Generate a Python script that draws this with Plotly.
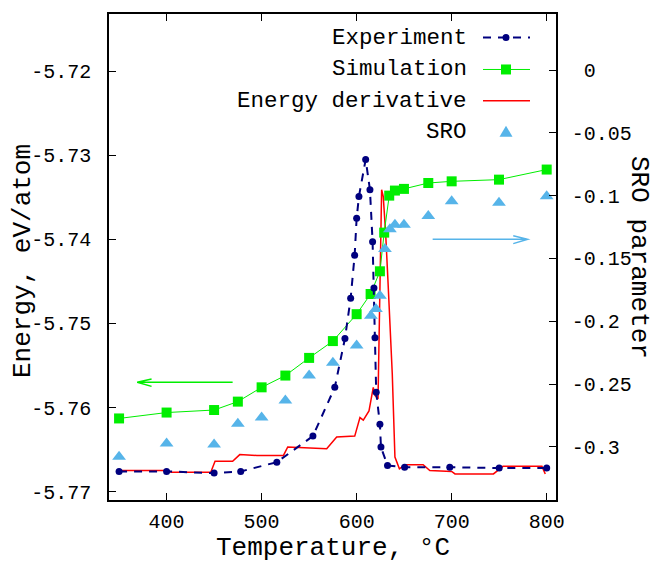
import plotly.graph_objects as go

# ---------------- data ----------------
exp_T = [350, 400, 450, 478, 516, 554, 577, 587.7, 593.7, 597.9, 600, 602.4, 609.5, 614,
         616.8, 618.2, 619.3, 620.6, 624.5, 625.6, 632.5, 650.5, 698, 750, 800]
exp_E = [-5.7676, -5.7676, -5.7678, -5.7676, -5.7665, -5.7634, -5.7576, -5.7518, -5.7470,
         -5.7419, -5.7375, -5.7349, -5.7305, -5.7341, -5.7403, -5.7458, -5.7517, -5.7582,
         -5.7620, -5.7647, -5.7669, -5.7671, -5.7671, -5.7672, -5.7672]

sim_T = [350, 400, 450, 475, 500, 525, 550, 575, 600, 614.7, 624.5, 629, 634.3, 640.3,
         649.8, 675.4, 700, 749.8, 800]
sim_E = [-5.7613, -5.7606, -5.7603, -5.7593, -5.7576, -5.7562, -5.7541, -5.7521, -5.7489,
         -5.7465, -5.7438, -5.7392, -5.7348, -5.7342, -5.7340, -5.7333, -5.7331, -5.7329,
         -5.7317]

der_T = [350, 400, 405, 446.5, 451, 469.5, 477, 495, 523, 527.5, 568.5, 579, 598, 603.5,
         607, 613, 617.5, 619.5, 622.5, 624.5, 626.3, 628, 630.5, 633, 635, 637.5, 640.3,
         645, 651, 670, 677, 700, 703.5, 744, 754, 795, 798.5]
der_E = [-5.7675, -5.7675, -5.7677, -5.7677, -5.7664, -5.7664, -5.7656, -5.7657, -5.7657,
         -5.7647, -5.7649, -5.7635, -5.7634, -5.7612, -5.7615, -5.7604, -5.7576, -5.7586,
         -5.7590, -5.7470, -5.7341, -5.7349, -5.7392, -5.7450, -5.7500, -5.7560, -5.7659,
         -5.7673, -5.7668, -5.7668, -5.7675, -5.7676, -5.7679, -5.7679, -5.7670, -5.7670,
         -5.7679]

sro_T = [350, 400, 450, 475, 500, 525, 550, 575, 600, 615, 620.3, 624.5, 629.8, 635,
         640.3, 649.8, 675.4, 700, 749.8, 800]
sro_V = [-0.3079, -0.2973, -0.2981, -0.2815, -0.2767, -0.2630, -0.2431, -0.2331, -0.2194,
         -0.1956, -0.1903, -0.1797, -0.1425, -0.1268, -0.1232, -0.1232, -0.1162, -0.1044,
         -0.1057, -0.1004]

x_ticks = [400, 500, 600, 700, 800]
x_ticktext = ["400", "500", "600", "700", "800"]
y_ticks = [-5.77, -5.76, -5.75, -5.74, -5.73, -5.72]
y_ticktext = ["-5.77", "-5.76", "-5.75", "-5.74", "-5.73", "-5.72"]
y2_ticks = [-0.3, -0.25, -0.2, -0.15, -0.1, -0.05, 0]
y2_ticktext = ["-0.3", "-0.25", "-0.2", "-0.15", "-0.1", "-0.05", "\u00a00"]

legend_names = ["Experiment", "Simulation", "Energy derivative", "SRO"]

# ---------------- styles ----------------
FONT = "Liberation Mono, Courier New, monospace"
C_EXP = "#00007f"
C_SIM = "#00ee00"
C_DER = "#ff0000"
C_SRO = "#56b4e9"

W, H = 654, 564
L, R, T, B = 109, 98, 12, 64
PW, PH = W - L - R, H - T - B


def pxx(x):
    return (x - L) / PW


def pxy(y):
    return (H - B - y) / PH


fig = go.Figure()
fig.add_trace(go.Scatter(x=der_T, y=der_E, mode="lines", line=dict(color=C_DER, width=1.5),
                         showlegend=False))
fig.add_trace(go.Scatter(x=sim_T, y=sim_E, mode="lines+markers",
                         line=dict(color=C_SIM, width=1),
                         marker=dict(symbol="square", size=10, color=C_SIM), showlegend=False))
fig.add_trace(go.Scatter(x=exp_T, y=exp_E, mode="lines+markers",
                         line=dict(color=C_EXP, width=2, dash="8px,7px"),
                         marker=dict(symbol="circle", size=7, color=C_EXP), showlegend=False))
fig.add_trace(go.Scatter(x=sro_T, y=sro_V, mode="markers", yaxis="y2",
                         marker=dict(symbol="triangle-up", size=12, color=C_SRO),
                         showlegend=False))

shapes = []
annotations = []

# arrows (decorations)
shapes.append(dict(type="path", xref="x", yref="y", line=dict(color=C_SIM, width=1.5),
                   path="M 469.5,-5.7570 L 369.1,-5.7570 M 384.2,-5.75661 L 369.1,-5.7570 L 384.2,-5.75749"))
shapes.append(dict(type="path", xref="x", yref="y2", line=dict(color=C_SRO, width=1.5),
                   path="M 680,-0.1347 L 780,-0.1347 M 764.8,-0.1319 L 780,-0.1347 L 764.8,-0.1382"))

# manual gnuplot-style legend
rows = [35.7, 67.7, 99.0, 130.7]
for name, ry in zip(legend_names, rows):
    annotations.append(dict(text=name, x=pxx(469), y=pxy(ry), xref="paper", yref="paper",
                            xanchor="right", yanchor="middle", showarrow=False,
                            font=dict(family=FONT, size=22.5, color="black")))
# Experiment sample
shapes.append(dict(type="line", xref="paper", yref="paper", x0=pxx(483), x1=pxx(530),
                   y0=pxy(rows[0]), y1=pxy(rows[0]),
                   line=dict(color=C_EXP, width=2, dash="8px,7px")))
shapes.append(dict(type="circle", xref="paper", yref="paper", xsizemode="pixel",
                   ysizemode="pixel", xanchor=pxx(506), yanchor=pxy(rows[0]),
                   x0=-3.5, x1=3.5, y0=-3.5, y1=3.5, fillcolor=C_EXP,
                   line=dict(color=C_EXP, width=0)))
# Simulation sample
shapes.append(dict(type="line", xref="paper", yref="paper", x0=pxx(483), x1=pxx(530),
                   y0=pxy(rows[1]), y1=pxy(rows[1]), line=dict(color=C_SIM, width=1)))
shapes.append(dict(type="rect", xref="paper", yref="paper", xsizemode="pixel",
                   ysizemode="pixel", xanchor=pxx(506), yanchor=pxy(rows[1]),
                   x0=-5, x1=5, y0=-5, y1=5, fillcolor=C_SIM,
                   line=dict(color=C_SIM, width=0)))
# Energy derivative sample
shapes.append(dict(type="line", xref="paper", yref="paper", x0=pxx(483), x1=pxx(530),
                   y0=pxy(rows[2]), y1=pxy(rows[2]), line=dict(color=C_DER, width=1.5)))
# SRO sample
shapes.append(dict(type="path", xref="paper", yref="paper", xsizemode="pixel",
                   ysizemode="pixel", xanchor=pxx(506), yanchor=pxy(rows[3]),
                   path="M -6.5,-4.5 L 6.5,-4.5 L 0,6.5 Z", fillcolor=C_SRO,
                   line=dict(color=C_SRO, width=0)))

# axis titles
annotations.append(dict(text="Temperature, \u00b0C", x=pxx(333), y=pxy(548), xref="paper",
                        yref="paper", xanchor="center", yanchor="middle", showarrow=False,
                        font=dict(family=FONT, size=26, color="black")))
annotations.append(dict(text="Energy, eV/atom", x=pxx(23), y=pxy(260), xref="paper",
                        yref="paper", xanchor="center", yanchor="middle", showarrow=False,
                        textangle=-90, font=dict(family=FONT, size=26, color="black")))
annotations.append(dict(text="SRO parameter", x=pxx(639), y=pxy(256), xref="paper",
                        yref="paper", xanchor="center", yanchor="middle", showarrow=False,
                        textangle=90, font=dict(family=FONT, size=26, color="black")))

tickfont = dict(family=FONT, size=20, color="black")
fig.update_layout(
    width=W, height=H, margin=dict(l=L, r=R, t=T, b=B, pad=0),
    paper_bgcolor="white", plot_bgcolor="white",
    font=dict(family=FONT, color="black"),
    showlegend=False,
    xaxis=dict(range=[339.4, 809.8], tickvals=x_ticks, ticktext=x_ticktext,
               ticks="inside", ticklen=7, tickwidth=1, tickcolor="black",
               showline=True, linecolor="black", linewidth=1.5, mirror="ticks",
               showgrid=False, zeroline=False, tickfont=tickfont, ticklabelstandoff=2),
    yaxis=dict(range=[-5.7710, -5.7132], tickvals=y_ticks, ticktext=y_ticktext,
               ticks="inside", ticklen=7, tickwidth=1, tickcolor="black",
               showline=True, linecolor="black", linewidth=1.5, mirror=False,
               showgrid=False, zeroline=False, tickfont=tickfont, ticklabelstandoff=12),
    yaxis2=dict(range=[-0.3423, 0.0446], tickvals=y2_ticks, ticktext=y2_ticktext,
                overlaying="y", side="right", anchor="x",
                ticks="inside", ticklen=7, tickwidth=1, tickcolor="black",
                showline=True, linecolor="black", linewidth=1.5,
                showgrid=False, zeroline=False, tickfont=tickfont, ticklabelstandoff=10),
    shapes=shapes, annotations=annotations,
)

fig.write_html("out.html")
